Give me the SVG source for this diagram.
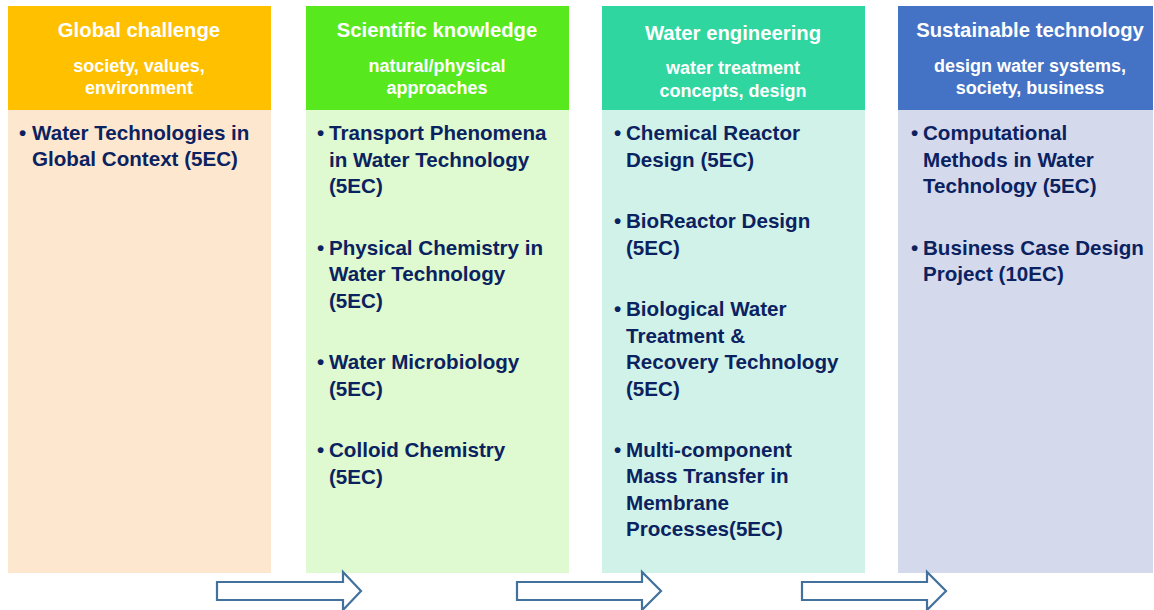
<svg xmlns="http://www.w3.org/2000/svg" width="1154" height="610" viewBox="0 0 1154 610">
<style>
.t{font-family:"Liberation Sans",Arial,sans-serif;font-weight:bold;fill:#fff;text-anchor:middle}
.h{font-size:20.3px}
.s{font-size:18px}
.b{font-family:"Liberation Sans",Arial,sans-serif;font-weight:bold;font-size:20.6px;fill:#0B2260}
.arr{fill:#fff;stroke:#41719C;stroke-width:2.2}
</style>
<rect width="1154" height="610" fill="#fff"/>
<g id="col1">
<rect x="8" y="110" width="263" height="463" fill="#FDE8CF"/>
<rect x="8" y="6" width="263" height="104" fill="#FFC000"/>
<text class="t h" x="139" y="37">Global challenge</text>
<text class="t s" x="139" y="72">society, values,</text>
<text class="t s" x="139" y="94">environment</text>
<text class="b" x="19" y="140">•</text>
<text class="b" x="32" y="140">Water Technologies in</text>
<text class="b" x="32" y="166">Global Context (5EC)</text>
</g>
<g id="col2">
<rect x="306" y="110" width="263" height="463" fill="#DFF9D0"/>
<rect x="306" y="6" width="263" height="104" fill="#57E91E"/>
<text class="t h" x="437" y="37">Scientific knowledge</text>
<text class="t s" x="437" y="72">natural/physical</text>
<text class="t s" x="437" y="94">approaches</text>
<text class="b" x="317" y="140">•</text>
<text class="b" x="329" y="140">Transport Phenomena</text>
<text class="b" x="329" y="167">in Water Technology</text>
<text class="b" x="329" y="193">(5EC)</text>
<text class="b" x="317" y="255">•</text>
<text class="b" x="329" y="255">Physical Chemistry in</text>
<text class="b" x="329" y="281">Water Technology</text>
<text class="b" x="329" y="308">(5EC)</text>
<text class="b" x="317" y="369">•</text>
<text class="b" x="329" y="369">Water Microbiology</text>
<text class="b" x="329" y="396">(5EC)</text>
<text class="b" x="317" y="457">•</text>
<text class="b" x="329" y="457">Colloid Chemistry</text>
<text class="b" x="329" y="484">(5EC)</text>
</g>
<g id="col3">
<rect x="602" y="110" width="263" height="463" fill="#D1F2E8"/>
<rect x="602" y="6" width="263" height="104" fill="#2FD6A0"/>
<text class="t h" x="733" y="40">Water engineering</text>
<text class="t s" x="733" y="74">water treatment</text>
<text class="t s" x="733" y="97">concepts, design</text>
<text class="b" x="614" y="140">•</text>
<text class="b" x="626" y="140">Chemical Reactor</text>
<text class="b" x="626" y="167">Design (5EC)</text>
<text class="b" x="614" y="228">•</text>
<text class="b" x="626" y="228">BioReactor Design</text>
<text class="b" x="626" y="255">(5EC)</text>
<text class="b" x="614" y="316">•</text>
<text class="b" x="626" y="316">Biological Water</text>
<text class="b" x="626" y="343">Treatment &amp;</text>
<text class="b" x="626" y="369">Recovery Technology</text>
<text class="b" x="626" y="396">(5EC)</text>
<text class="b" x="614" y="457">•</text>
<text class="b" x="626" y="457">Multi-component</text>
<text class="b" x="626" y="483">Mass Transfer in</text>
<text class="b" x="626" y="510">Membrane</text>
<text class="b" x="626" y="536">Processes(5EC)</text>
</g>
<g id="col4">
<rect x="898" y="110" width="255" height="463" fill="#D4D9EC"/>
<rect x="898" y="6" width="255" height="104" fill="#4472C4"/>
<text class="t h" x="1030" y="37">Sustainable technology</text>
<text class="t s" x="1030" y="72">design water systems,</text>
<text class="t s" x="1030" y="94">society, business</text>
<text class="b" x="911" y="140">•</text>
<text class="b" x="923" y="140">Computational</text>
<text class="b" x="923" y="167">Methods in Water</text>
<text class="b" x="923" y="193">Technology (5EC)</text>
<text class="b" x="911" y="255">•</text>
<text class="b" x="923" y="255">Business Case Design</text>
<text class="b" x="923" y="281">Project (10EC)</text>
</g>
<g id="connectors">
<polygon class="arr" points="217,582 343,582 343,572 361,591 343,610 343,600 217,600"/>
<polygon class="arr" points="517,582 642,582 642,572 661,591 642,610 642,600 517,600"/>
<polygon class="arr" points="802,582 927,582 927,572 946,591 927,610 927,600 802,600"/>
</g>
</svg>
